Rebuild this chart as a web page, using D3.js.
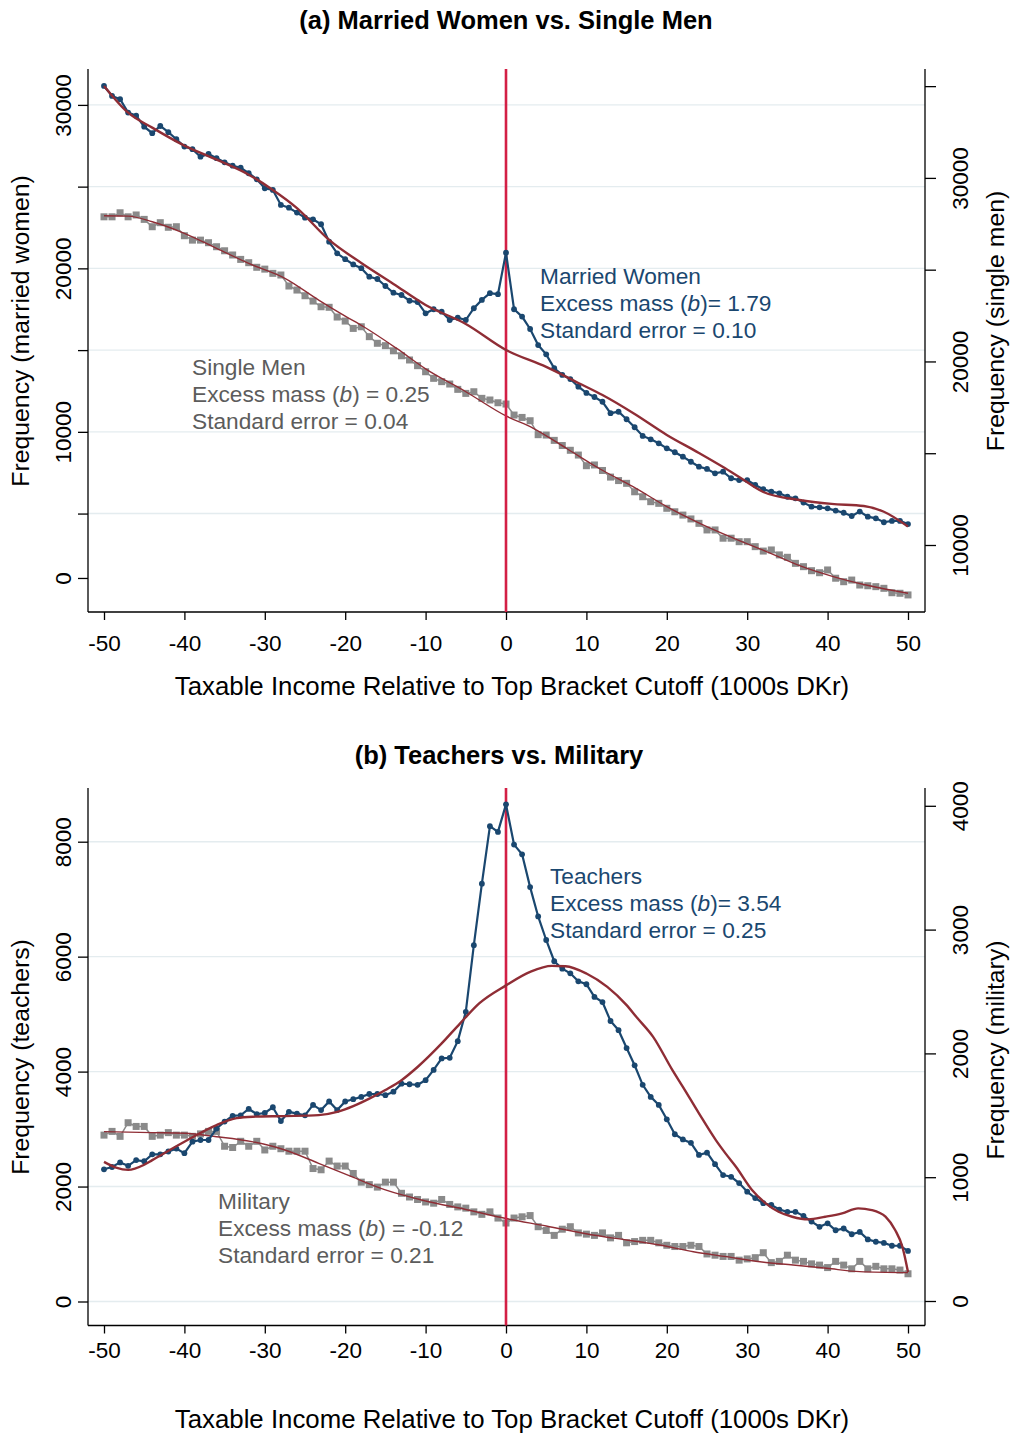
<!DOCTYPE html>
<html><head><meta charset="utf-8">
<script src="https://cdn.jsdelivr.net/npm/d3@7"></script>
<style>
body{margin:0;background:#fff}
svg{display:block}
text{font-family:"Liberation Sans",Arial,Helvetica,sans-serif}
</style>
</head><body>
<svg id="chart" width="1013" height="1434"></svg>
<script>
// ---------- DATA ----------
const incomeBins = d3.range(-50, 51); // bins of 1000 DKr relative to cutoff
const xTickValues = [-50,-40,-30,-20,-10,0,10,20,30,40,50];

// Panel (a)
const marriedWomen = [
 31160,30550,30350,29530,29340,28670,28270,28710,28330,27900,
 27450,27290,26830,27000,26740,26490,26280,26160,25820,25450,
 24900,24800,23880,23710,23410,23100,23000,22700,21630,20920,
 20560,20240,20010,19490,19350,18920,18510,18370,18020,17940,
 17250,17500,17350,16840,16980,16840,17560,18070,18480,18420,
 20960,17500,17050,16290,15310,14740,13890,13480,13230,12760,
 12380,12130,11840,11140,11230,10770,10280,9750,9540,9300,
 8990,8750,8480,8170,7870,7730,7460,7560,7160,7050,
 7050,6750,6490,6340,6240,6030,5930,5670,5420,5380,
 5320,5180,5050,4850,5120,4810,4710,4470,4550,4550,4360];
const singleMen = [
 27880,27880,28100,27880,27980,27740,27340,27560,27310,27340,
 26850,26610,26610,26470,26250,26030,25800,25560,25380,25130,
 25030,24800,24710,24110,23890,23580,23290,22980,22950,22420,
 22200,21800,21890,21350,20990,20860,20580,20310,20080,19770,
 19440,19080,18900,18770,18480,18260,18350,17990,17900,17750,
 17680,17080,16950,16770,16010,15990,15700,15420,15160,14900,
 14320,14360,14060,13700,13510,13360,12900,12630,12360,12270,
 12000,11810,11630,11420,11180,10820,10820,10370,10370,10180,
 10180,9910,9670,9730,9460,9330,9000,8820,8600,8490,
 8640,8190,8000,8090,7820,7780,7730,7640,7400,7370,7280];
const marriedFitX = [-50,-47,-44,-40,-36,-32,-29,-26,-22,-18,-14,-10,-5,0,5,9,12,16,20,24,27,29,32,36.5,40.5,44.5,47,50];
const marriedFitY = [31160,29525,28610,27510,26650,25730,24800,23690,21740,20330,19050,17760,16600,15010,13970,12990,12250,11090,9810,8710,7850,7240,6320,5830,5590,5460,5110,4200];
const singleFitX = [-50,-47,-44,-40,-36,-32,-27.5,-23.3,-20,-17.7,-13.6,-10,-5,0,3.4,7.5,11.7,15.8,20,24.1,28.3,32.4,36.6,40.7,44.8,50];
const singleFitY = [27940,27920,27610,26980,26160,25340,24530,23345,22470,21890,20710,19600,18350,17030,16360,15270,14140,13180,12090,11180,10370,9640,8860,8280,7820,7370];
const leftTicksA = [1060,5000,10000,15000,20000,25000,30000];
const leftLabelsA = ["0","","10000","","20000","","30000"];
const gridA = [5000,10000,15000,20000,25000,30000];
const rightTicksA = [10000,15000,20000,25000,30000,35000];
const rightLabelsA = ["10000","","20000","","30000",""];

// Panel (b)
const teachers = [
 2300,2340,2420,2360,2460,2440,2560,2560,2610,2660,
 2580,2780,2810,2810,3010,3130,3230,3240,3350,3260,
 3280,3380,3140,3300,3270,3240,3420,3330,3480,3330,
 3480,3520,3560,3610,3610,3590,3650,3790,3780,3770,
 3850,4030,4230,4240,4530,5040,6200,7270,8270,8170,
 8650,7950,7780,7210,6700,6290,5920,5790,5710,5570,
 5520,5300,5210,4880,4720,4410,4110,3770,3560,3420,
 3170,2910,2820,2760,2550,2590,2390,2200,2170,2060,
 1910,1800,1710,1680,1600,1560,1560,1490,1390,1300,
 1360,1240,1270,1170,1210,1080,1040,1020,970,970,880];
const military = [
 1340,1370,1330,1440,1410,1410,1330,1340,1360,1340,
 1340,1330,1350,1370,1370,1250,1240,1290,1250,1290,
 1220,1250,1230,1210,1210,1210,1070,1060,1130,1090,
 1090,1030,960,940,920,960,960,870,840,820,
 800,790,820,780,760,750,720,700,720,670,
 630,670,680,690,600,570,530,580,600,550,
 540,530,550,510,530,470,480,490,490,470,
 450,440,440,450,440,380,370,360,360,330,
 340,350,390,310,320,370,330,320,300,290,
 270,320,290,260,320,260,280,260,260,250,220];
const teachersFitX = [-50,-48.5,-47,-45,-44,-40,-36,-33.5,-31.5,-27.5,-23.3,-21,-19,-17,-15,-13,-11,-8,-5.7,-3.3,0,3,5.7,7.4,10,12.6,15,16.2,18.3,20.7,22,24,26.1,27.3,28.6,30.6,32.3,33.9,35.6,37.6,39.7,41.8,43.8,45.5,47.2,48.4,49.3,50];
const teachersFitY = [2430,2330,2290,2380,2460,2780,3070,3190,3215,3226,3243,3300,3400,3530,3680,3850,4080,4490,4840,5190,5500,5735,5840,5834,5707,5474,5156,4953,4605,4026,3735,3273,2808,2577,2344,1939,1708,1562,1475,1429,1475,1534,1621,1591,1475,1243,953,513];
const militaryFitX = [-50,-44,-40,-36,-31.6,-27.5,-23.3,-19.2,-15,-10,-5,0,5,10.8,15,19.1,23.3,27.4,31.6,35.7,39.9,44,50];
const militaryFitY = [1368,1360,1355,1327,1287,1220,1112,1004,897,808,739,666,606,533,493,452,398,358,317,291,264,237,229];
const leftTicksB = [0,2000,4000,6000,8000];
const leftLabelsB = ["0","2000","4000","6000","8000"];
const gridB = [0,2000,4000,6000,8000];
const rightTicksB = [0,1000,2000,3000,4000];
const rightLabelsB = ["0","1000","2000","3000","4000"];

// ---------- STYLE ----------
const NAVY = "#1a476f", GRAY = "#8a8a8a", FIT = "#8f2d35", VLINE = "#d31f45", GRID = "#e4ecef";
const ANN_GRAY = "#5c5c5c";
const FONT = '"Liberation Sans",Arial,sans-serif';

const svg = d3.select("#chart");
svg.append("rect").attr("width",1013).attr("height",1434).attr("fill","#fff");

function drawPanel(c) {
  const g = svg.append("g");
  const x = d3.scaleLinear().domain([-50,50]).range([104,908]);
  const L = 88, R = 925;
  // title
  g.append("text").attr("x",c.titleX).attr("y",c.titleY).attr("text-anchor","middle")
    .attr("font-size",25.5).attr("font-weight","bold").text(c.title);
  // gridlines
  g.selectAll(".grid").data(c.grid).join("line")
    .attr("x1",L).attr("x2",R).attr("y1",d=>c.yL(d)).attr("y2",d=>c.yL(d))
    .attr("stroke",GRID).attr("stroke-width",1.4);
  // axis lines
  g.append("line").attr("x1",L).attr("x2",L).attr("y1",c.top).attr("y2",c.bottom).attr("stroke","#000").attr("stroke-width",1.3);
  g.append("line").attr("x1",R).attr("x2",R).attr("y1",c.top).attr("y2",c.bottom).attr("stroke","#000").attr("stroke-width",1.3);
  g.append("line").attr("x1",L).attr("x2",R).attr("y1",c.bottom).attr("y2",c.bottom).attr("stroke","#000").attr("stroke-width",1.3);
  // x axis
  const xa = g.append("g").attr("transform",`translate(0,${c.bottom})`)
    .call(d3.axisBottom(x).tickValues(xTickValues).tickFormat(d=>String(d)).tickSize(8));
  xa.select(".domain").remove();
  xa.selectAll("line").attr("stroke","#000").attr("stroke-width",1.3);
  xa.selectAll("text").attr("font-size",22.5).attr("fill","#000").attr("dy",0).attr("y",c.xLabelOff)
    .attr("font-family",FONT);
  // left axis
  const la = g.append("g").attr("transform",`translate(${L},0)`)
    .call(d3.axisLeft(c.yL).tickValues(c.leftTicks).tickFormat((d,i)=>c.leftLabels[i]).tickSize(10));
  la.select(".domain").remove();
  la.selectAll("line").attr("stroke","#000").attr("stroke-width",1.3);
  la.selectAll("text").attr("font-size",22.5).attr("fill","#000").attr("text-anchor","middle")
    .attr("transform","rotate(-90)").attr("x",0).attr("y",-17.5).attr("dy",0)
    .attr("font-family",FONT);
  // right axis
  const ra = g.append("g").attr("transform",`translate(${R},0)`)
    .call(d3.axisRight(c.yR).tickValues(c.rightTicks).tickFormat((d,i)=>c.rightLabels[i]).tickSize(11));
  ra.select(".domain").remove();
  ra.selectAll("line").attr("stroke","#000").attr("stroke-width",1.3);
  ra.selectAll("text").attr("font-size",22.5).attr("fill","#000").attr("text-anchor","middle")
    .attr("transform","rotate(-90)").attr("x",0).attr("y",43.3).attr("dy",0)
    .attr("font-family",FONT);
  // axis titles
  g.append("text").attr("transform",`translate(29,${c.lTitleY}) rotate(-90)`).attr("text-anchor","middle")
    .attr("font-size",24.8).text(c.lTitle);
  g.append("text").attr("transform",`translate(1004,${c.rTitleY}) rotate(-90)`).attr("text-anchor","middle")
    .attr("font-size",24.8).text(c.rTitle);
  g.append("text").attr("x",512).attr("y",c.xTitleY).attr("text-anchor","middle")
    .attr("font-size",25.8).text("Taxable Income Relative to Top Bracket Cutoff (1000s DKr)");

  // gray series (right axis)
  const grayLine = d3.line().x((d,i)=>x(incomeBins[i])).y(d=>c.yR(d));
  g.append("path").datum(c.grayData).attr("d",grayLine).attr("fill","none").attr("stroke",GRAY).attr("stroke-width",1.5);
  g.selectAll(".sq").data(c.grayData).join("rect")
    .attr("x",(d,i)=>x(incomeBins[i])-3.5).attr("y",d=>c.yR(d)-3.5)
    .attr("width",7).attr("height",7).attr("fill",GRAY);
  const grayFit = d3.line().curve(d3.curveMonotoneX).x(d=>x(d[0])).y(d=>c.yR(d[1]));
  g.append("path").datum(d3.zip(c.grayFitX,c.grayFitY)).attr("d",grayFit)
    .attr("fill","none").attr("stroke",FIT).attr("stroke-width",1.4);
  // vertical line at cutoff
  g.append("line").attr("x1",x(0)).attr("x2",x(0)).attr("y1",c.top).attr("y2",c.bottom)
    .attr("stroke",VLINE).attr("stroke-width",2.6);
  // blue series (left axis)
  const blueLine = d3.line().x((d,i)=>x(incomeBins[i])).y(d=>c.yL(d));
  g.append("path").datum(c.blueData).attr("d",blueLine).attr("fill","none").attr("stroke",NAVY).attr("stroke-width",2.2);
  g.selectAll(".dot").data(c.blueData).join("circle")
    .attr("cx",(d,i)=>x(incomeBins[i])).attr("cy",d=>c.yL(d)).attr("r",2.9).attr("fill",NAVY);
  const blueFit = d3.line().curve(d3.curveMonotoneX).x(d=>x(d[0])).y(d=>c.yL(d[1]));
  g.append("path").datum(d3.zip(c.blueFitX,c.blueFitY)).attr("d",blueFit)
    .attr("fill","none").attr("stroke",FIT).attr("stroke-width",2.4);

  // annotations
  function ann(xp, y0, color, name, bval, sep, se) {
    const t = g.append("g").attr("fill",color).attr("font-size",22.7);
    t.append("text").attr("x",xp).attr("y",y0).text(name);
    const l2 = t.append("text").attr("x",xp).attr("y",y0+27);
    l2.append("tspan").text("Excess mass (");
    l2.append("tspan").attr("font-style","italic").text("b");
    l2.append("tspan").text(")" + sep + bval);
    t.append("text").attr("x",xp).attr("y",y0+54).text("Standard error = " + se);
  }
  c.annotations.forEach(a=>ann(a.x,a.y,a.color,a.name,a.b,a.sep,a.se));
}

drawPanel({
  title:"(a) Married Women vs. Single Men", titleX:506, titleY:29,
  top:69, bottom:612, xLabelOff:39, xTitleY:695,
  yL:d3.scaleLinear().domain([0,30000]).range([595.3,104.9]),
  yR:d3.scaleLinear().domain([10000,30000]).range([545,177.9]),
  grid:gridA, leftTicks:leftTicksA, leftLabels:leftLabelsA,
  rightTicks:rightTicksA, rightLabels:rightLabelsA,
  lTitle:"Frequency (married women)", lTitleY:331,
  rTitle:"Frequency (single men)", rTitleY:321,
  blueData:marriedWomen, grayData:singleMen,
  blueFitX:marriedFitX, blueFitY:marriedFitY, grayFitX:singleFitX, grayFitY:singleFitY,
  annotations:[
    {x:540,y:284,color:NAVY,name:"Married Women",b:"1.79",sep:"= ",se:"0.10"},
    {x:192,y:375,color:ANN_GRAY,name:"Single Men",b:"0.25",sep:" = ",se:"0.04"}]
});
drawPanel({
  title:"(b) Teachers vs. Military", titleX:499, titleY:764,
  top:788, bottom:1325.5, xLabelOff:32.5, xTitleY:1428,
  yL:d3.scaleLinear().domain([0,8000]).range([1301.5,841.7]),
  yR:d3.scaleLinear().domain([0,4000]).range([1301,805.8]),
  grid:gridB, leftTicks:leftTicksB, leftLabels:leftLabelsB,
  rightTicks:rightTicksB, rightLabels:rightLabelsB,
  lTitle:"Frequency (teachers)", lTitleY:1057,
  rTitle:"Frequency (military)", rTitleY:1050,
  blueData:teachers, grayData:military,
  blueFitX:teachersFitX, blueFitY:teachersFitY, grayFitX:militaryFitX, grayFitY:militaryFitY,
  annotations:[
    {x:550,y:884,color:NAVY,name:"Teachers",b:"3.54",sep:"= ",se:"0.25"},
    {x:218,y:1209,color:ANN_GRAY,name:"Military",b:"-0.12",sep:" = ",se:"0.21"}]
});
</script>
</body></html>
